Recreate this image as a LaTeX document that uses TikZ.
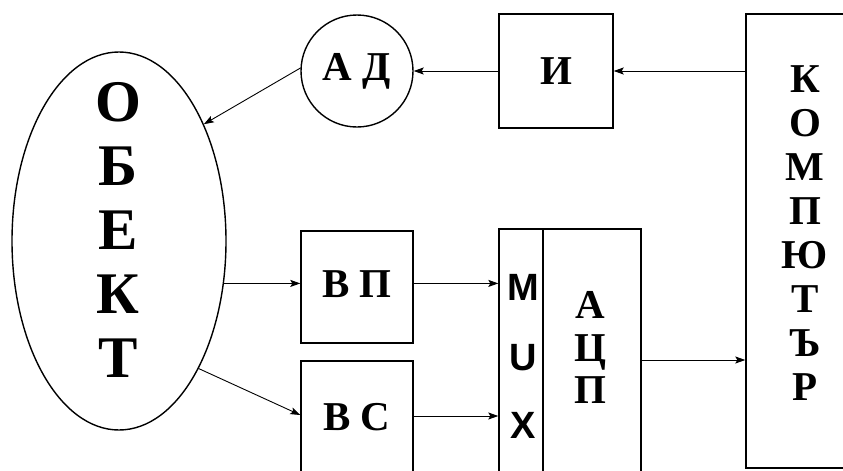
\documentclass[tikz,border=0pt]{standalone}
\usepackage{fontspec}
\setmainfont{Liberation Serif}[BoldFont={Liberation Serif Bold}]
\newfontfamily\sansfam{Liberation Sans}[BoldFont={Liberation Sans Bold}]
\usetikzlibrary{arrows.meta,shapes.geometric}

\tikzset{
  blk/.style={draw, line width=1.4pt, inner sep=0pt},
  arr/.style={line width=0.9pt, -{Stealth[length=10pt,width=7pt,inset=2pt]}},
  lbl/.style={font=\bfseries\fontsize{41}{41}\selectfont, inner sep=0pt},
  lblb/.style={lbl, anchor=base},
  big/.style={font=\bfseries\fontsize{59}{59}\selectfont, anchor=base, inner sep=0pt},
  muxl/.style={font=\sansfam\bfseries\fontsize{38}{38}\selectfont, anchor=base, inner sep=0pt}
}

\begin{document}
\begin{tikzpicture}[x=1pt,y=-1pt]
  \useasboundingbox (0,0) rectangle (843,471);
  \clip (0,0) rectangle (843,471);

  % object (ellipse) and its vertical caption
  \node[blk, ellipse, minimum width=214pt, minimum height=378pt] (obj) at (119,241) {};
  \foreach \ch [count=\k from 0] in {О,Б,Е,К,Т}
    \node[big] (obj-\k) at (118,121+64*\k) {\ch};

  % actuator and interface
  \node[blk, circle, minimum size=112pt, lbl] (ad) at (357,71) {А Д};
  \node[blk, minimum width=114pt, minimum height=114pt, lbl] (i) at (556,71) {И};

  % computer
  \node[blk, minimum width=154pt, minimum height=454pt] (comp) at (823,241) {};
  \foreach \ch [count=\k from 0] in {К,О,М,П,Ю,Т,Ъ,Р}
    \node[lblb] (comp-\k) at (805,92+44*\k) {\ch};

  % sensors
  \node[blk, minimum width=112pt, minimum height=112pt] (vp) at (357,287) {};
  \node[lblb] (vp-t) at (357,297) {В П};
  \node[blk, minimum width=112pt, minimum height=114pt] (vs) at (357,418) {};
  \node[lblb] (vs-t) at (357,430) {В С};

  % multiplexer and A/D converter
  \node[blk, minimum width=44pt, minimum height=251pt] (mux) at (521,354.5) {};
  \node[muxl] (mux-m) at (523,300) {M};
  \node[muxl] (mux-u) at (523,370) {U};
  \node[muxl] (mux-x) at (523,438) {X};
  \node[blk, minimum width=98pt, minimum height=251pt] (adc) at (592,354.5) {};
  \node[lblb] (adc-a) at (590,318) {А};
  \node[lblb] (adc-c) at (590,361) {Ц};
  \node[lblb] (adc-p) at (590,403) {П};

  % signal flow
  \draw[arr] (i.east -| comp.west) -- (i.east);
  \draw[arr] (i.west) -- (ad.east);
  \draw[arr] (ad.177) -- (obj.54);
  \draw[arr] (obj.-22.7) -- (obj.-22.7 -| vp.west);
  \draw[arr] (vp.east |- obj.-22.7) -- (obj.-22.7 -| mux.west);
  \draw[arr] (obj.-58.8) -- ([yshift=3pt]vs.west);
  \draw[arr] ([yshift=2pt]vs.east) -- ([yshift=2pt]vs.east -| mux.west);
  \draw[arr] ([yshift=-5.5pt]adc.east) -- ([yshift=-5.5pt]adc.east -| comp.west);
\end{tikzpicture}
\end{document}
